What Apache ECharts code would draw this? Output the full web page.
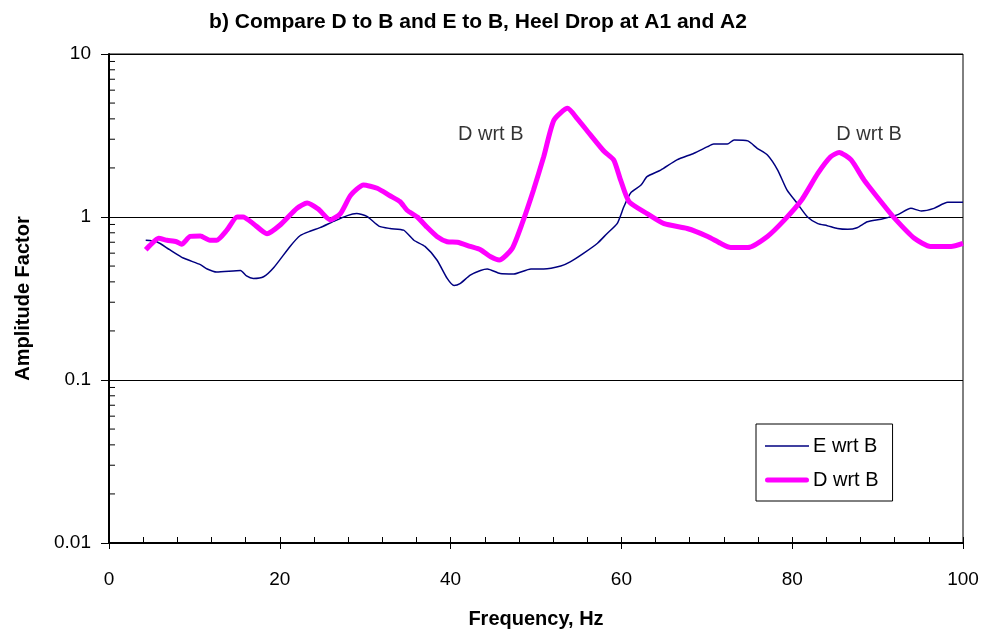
<!DOCTYPE html>
<html><head><meta charset="utf-8">
<script src="https://cdn.jsdelivr.net/npm/echarts@6/dist/echarts.min.js"></script>
<style>html,body{margin:0;padding:0;background:#fff}#c{width:989px;height:639px}</style>
</head><body><div id="c"></div>
<script>
const titleText = 'b) Compare D to B and E to B, Heel Drop at A1 and A2';
const xTicks = [0, 20, 40, 60, 80, 100];
const yTicks = [0.01, 0.1, 1, 10];
const yMinorTicks = [0.02,0.03,0.04,0.05,0.06,0.07,0.08,0.09,0.2,0.3,0.4,0.5,0.6,0.7,0.8,0.9,2,3,4,5,6,7,8,9];
const eFreq = [4.3,5.6,7.1,8.7,10.7,11.5,12.6,15.4,16.1,16.9,18.1,19.3,21.2,22.4,23.6,24.7,26.3,27.9,29.0,30.2,31.6,32.9,34.5,35.7,37.0,38.4,39.6,40.4,41.1,42.3,43.5,44.3,45.8,47.4,49.4,50.9,52.9,54.0,55.6,57.2,58.3,59.5,60.3,61.1,62.3,63.0,64.6,66.5,68.5,70.1,70.8,72.4,73.2,74.8,75.9,77.1,78.3,79.4,80.6,81.8,83.0,84.1,85.3,86.5,87.6,88.8,90.4,92.3,93.9,95.1,96.6,98.2,100];
const eVal = [0.72,0.705,0.63,0.56,0.51,0.48,0.46,0.47,0.435,0.42,0.43,0.49,0.66,0.77,0.82,0.86,0.94,1.02,1.05,1.01,0.88,0.85,0.83,0.72,0.66,0.545,0.42,0.38,0.39,0.44,0.47,0.48,0.45,0.447,0.48,0.48,0.50,0.53,0.60,0.69,0.79,0.91,1.16,1.41,1.57,1.77,1.94,2.24,2.46,2.70,2.80,2.80,2.97,2.93,2.64,2.40,1.94,1.46,1.21,1.00,0.91,0.885,0.85,0.84,0.86,0.935,0.97,1.03,1.13,1.09,1.13,1.23,1.23];
const dFreq = [4.3,4.8,5.8,6.8,7.9,8.5,9.5,10.7,11.8,12.6,13.8,15.0,15.7,16.9,18.5,20.0,22.0,23.2,24.5,25.9,27.1,28.3,29.8,31.4,32.9,34.1,34.9,36.1,37.2,38.4,39.6,40.8,42.3,43.5,44.7,45.7,47.2,48.4,49.7,50.9,52.1,53.7,54.8,56.4,58.0,59.1,59.9,60.9,63.0,65.0,67.7,70.1,71.6,72.8,74.8,77.1,79.1,81.1,83.0,84.5,85.5,86.9,88.4,90.4,92.0,94.3,96.2,98.6,100];
const dVal = [0.63,0.67,0.74,0.72,0.705,0.68,0.76,0.765,0.72,0.72,0.83,1.0,1.0,0.91,0.79,0.89,1.13,1.22,1.12,0.96,1.05,1.36,1.57,1.50,1.35,1.24,1.10,1.0,0.87,0.76,0.705,0.70,0.66,0.63,0.57,0.545,0.64,0.92,1.46,2.34,3.93,4.64,4.03,3.18,2.52,2.24,1.69,1.24,1.05,0.91,0.85,0.76,0.69,0.65,0.65,0.76,0.96,1.27,1.85,2.34,2.49,2.24,1.69,1.24,0.98,0.74,0.66,0.66,0.69];
const annotations = [{x: 44.7, y: 3.2, text: 'D wrt B'}, {x: 89.0, y: 3.2, text: 'D wrt B'}];

const F = 'Liberation Sans, Arial, sans-serif';
const zip = (a, b) => a.map((v, i) => [v, b[i]]);
const chart = echarts.init(document.getElementById('c'));
chart.setOption({
  animation: false,
  backgroundColor: '#fff',
  title: {text: titleText, left: 473, textAlign: 'center', top: 7,
    textStyle: {fontFamily: F, fontSize: 21, fontWeight: 'bold', color: '#000'}},
  grid: {left: 109, right: 26, top: 54, bottom: 96, show: true, borderColor: '#000', borderWidth: 1, backgroundColor: '#fff'},
  legend: {orient: 'vertical', left: 756, top: 424, itemWidth: 44, itemHeight: 6, itemGap: 14,
    padding: [12, 14, 11, 9], borderColor: '#000', borderWidth: 1, backgroundColor: '#fff',
    textStyle: {fontFamily: F, fontSize: 20, color: '#000', padding: [0, 0, 0, -1]},
    data: [
      {name: 'E wrt B', icon: 'path://M0,0 L44,0 L44,1.5 L0,1.5 Z', itemStyle: {color: '#000080'}},
      {name: 'D wrt B', icon: 'path://M2.5,0 L41.5,0 A2.5,2.5 0 0 1 41.5,5 L2.5,5 A2.5,2.5 0 0 1 2.5,0 Z', itemStyle: {color: '#FF00FF'}}
    ]},
  xAxis: [{
    type: 'value', min: xTicks[0], max: xTicks[xTicks.length - 1], interval: 20, position: 'bottom',
    axisLine: {lineStyle: {color: '#000', width: 2}},
    axisTick: {inside: true, length: 6, lineStyle: {color: '#000', width: 1}},
    minorTick: {show: true, splitNumber: 5, length: 6, lineStyle: {color: '#000', width: 1}},
    axisLabel: {margin: 27, fontFamily: F, fontSize: 19, color: '#000'},
    splitLine: {show: false},
    name: 'Frequency, Hz', nameLocation: 'middle', nameGap: 66,
    nameTextStyle: {fontFamily: F, fontSize: 20, fontWeight: 'bold', color: '#000'}
  }, {
    type: 'value', min: xTicks[0], max: xTicks[xTicks.length - 1], interval: 20, position: 'bottom',
    axisLine: {show: false}, axisTick: {show: true, inside: false, length: 6, lineStyle: {color: '#000'}},
    axisLabel: {show: false}, splitLine: {show: false}
  }],
  yAxis: {
    type: 'log', logBase: 10, min: yTicks[0], max: yTicks[yTicks.length - 1],
    axisLine: {show: true, lineStyle: {color: '#000', width: 2}},
    axisTick: {show: true, inside: false, length: 8, lineStyle: {color: '#000', width: 1}},
    axisLabel: {margin: 18, fontFamily: F, fontSize: 19, color: '#000',
      formatter: v => String(+v.toPrecision(3))},
    splitLine: {show: true, lineStyle: {color: '#000', width: 1}},
    name: 'Amplitude Factor', nameLocation: 'middle', nameGap: 76,
    nameTextStyle: {fontFamily: F, fontSize: 20, fontWeight: 'bold', color: '#000'}
  },
  series: [
    {name: 'E wrt B', type: 'line', data: zip(eFreq, eVal), showSymbol: false, symbol: 'none', smooth: 0.2,
      lineStyle: {color: '#000080', width: 1.5}, itemStyle: {color: '#000080'}, z: 3},
    {name: 'D wrt B', type: 'line', data: zip(dFreq, dVal), showSymbol: false, symbol: 'none', smooth: 0.2,
      lineStyle: {color: '#FF00FF', width: 5}, itemStyle: {color: '#FF00FF'}, z: 4},
    {type: 'custom', silent: true, data: yMinorTicks.map(v => [0, v]), z: 5,
      renderItem: (params, api) => {
        const p = api.coord([api.value(0), api.value(1)]);
        return {type: 'line', shape: {x1: p[0], y1: p[1], x2: p[0] + 6, y2: p[1]}, style: {stroke: '#000', lineWidth: 1}};
      }},
    {type: 'scatter', silent: true, symbolSize: 0, data: annotations.map(a => ({value: [a.x, a.y], label: {formatter: a.text}})),
      label: {show: true, position: 'inside', fontFamily: F, fontSize: 20, color: '#000'}}
  ]
});
</script></body></html>
